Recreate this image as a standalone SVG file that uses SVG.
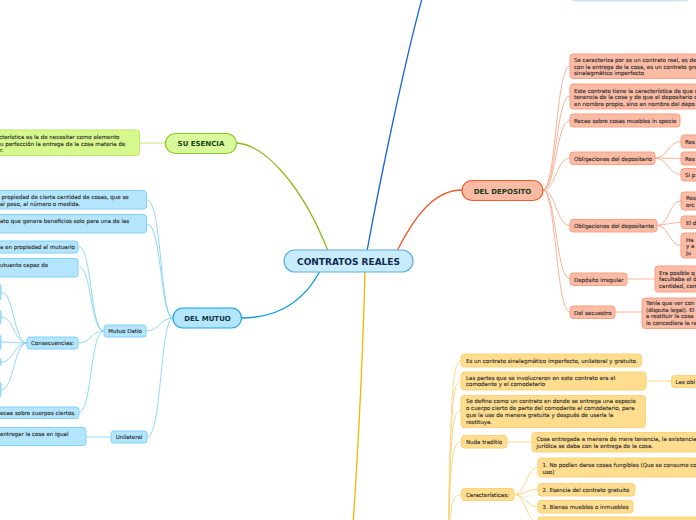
<svg xmlns="http://www.w3.org/2000/svg" width="696" height="520" viewBox="0 0 696 520">
<style>
.t{font-family:"DejaVu Sans",Verdana,sans-serif;font-size:5.5px;fill:#2e2e2e;stroke:#2e2e2e;stroke-width:0.12}
.h{font-family:"DejaVu Sans",Verdana,sans-serif;font-weight:bold;text-anchor:middle}
.m{text-anchor:middle}
.bl{fill:#b3e5fc;stroke:#82d2f6;stroke-width:1}
.sa{fill:#fbbba5;stroke:#f6a184;stroke-width:1}
.ye{fill:#fedd8e;stroke:#fcd27a;stroke-width:1}
.gr{fill:#d6f88c;stroke:#bde86a;stroke-width:1}
.cb{fill:none;stroke:#86d2f5;stroke-width:0.9}
.cs{fill:none;stroke:#f8ab8f;stroke-width:0.9}
.cy{fill:none;stroke:#fdd27c;stroke-width:0.9}
.cg{fill:none;stroke:#bde36e;stroke-width:0.9}
</style>
<g id="connectors">
<path d="M237,143 C265,145 302,185 328,251" fill="none" stroke="#8dbb1c" stroke-width="1.3"/>
<path d="M367,251 C380,180 405,60 423,-5" fill="none" stroke="#1764d8" stroke-width="1.3"/>
<path d="M397,251 C415,215 435,190 462,190" fill="none" stroke="#f2582a" stroke-width="1.3"/>
<path d="M320,271 C302,305 275,318 241,318" fill="none" stroke="#0f9be0" stroke-width="1.3"/>
<path d="M365,271 C363,350 358,450 353,525" fill="none" stroke="#f5b400" stroke-width="1.3"/>
<path class="cg" d="M165,143 L140,143"/>
<path class="cb" d="M173,318 C160,318 162,200 147,200"/>
<path class="cb" d="M173,318 C160,318 162,224 147,224"/>
<path class="cb" d="M173,318 C160,318 160,331 146,331"/>
<path class="cb" d="M173,318 C160,318 162,437 147,437"/>
<path class="cb" d="M104,331 C90,331 92,247 79,247"/>
<path class="cb" d="M104,331 C90,331 92,267 79,267"/>
<path class="cb" d="M104,331 C90,331 92,343 78,343"/>
<path class="cb" d="M104,331 C90,331 92,412.5 79,412.5"/>
<path class="cb" d="M27,343 C14,343 14,292 1,292"/>
<path class="cb" d="M27,343 C14,343 14,317 1,317"/>
<path class="cb" d="M27,343 L1,342"/>
<path class="cb" d="M27,343 C14,343 14,362 1,362"/>
<path class="cb" d="M27,343 C14,343 14,390 1,390"/>
<path class="cb" d="M111,437 L86,437"/>
<path class="cs" d="M543,190 C556,190 556,66 570,66"/>
<path class="cs" d="M543,190 C556,190 556,96 570,96"/>
<path class="cs" d="M543,190 C556,190 556,120.5 570,120.5"/>
<path class="cs" d="M543,190 C556,190 556,158 570,158"/>
<path class="cs" d="M543,190 C556,190 556,225.5 570,225.5"/>
<path class="cs" d="M543,190 C556,190 556,279 570,279"/>
<path class="cs" d="M543,190 C556,190 556,312 570,312"/>
<path class="cs" d="M655,158 C668,158 668,141.5 681,141.5"/>
<path class="cs" d="M655,158 L681,158.5"/>
<path class="cs" d="M655,158 C668,158 668,174.5 681,174.5"/>
<path class="cs" d="M657,225.5 C669,225.5 669,201 681,201"/>
<path class="cs" d="M657,225.5 L681,222"/>
<path class="cs" d="M657,225.5 C669,225.5 669,245.5 681,245.5"/>
<path class="cs" d="M627,279 L655,279"/>
<path class="cs" d="M615,312 L642,312"/>
<path class="cy" d="M448,540 C451,400 452,360.5 461,360.5"/>
<path class="cy" d="M448,540 C451,410 452,381 461,381"/>
<path class="cy" d="M448,540 C451,430 452,411 461,411"/>
<path class="cy" d="M448,540 C451,460 452,442 461,442"/>
<path class="cy" d="M448,540 C451,505 452,494.5 461,494.5"/>
<path class="cy" d="M646,381 L671,381"/>
<path class="cy" d="M507,442 L532,442"/>
<path class="cy" d="M514,494.5 C526,494.5 526,467.5 538,467.5"/>
<path class="cy" d="M514,494.5 C526,494.5 526,489.5 538,489.5"/>
<path class="cy" d="M514,494.5 C526,494.5 526,507 538,507"/>
<path class="cy" d="M514,494.5 C526,494.5 526,522 538,522"/>
</g>
<g id="top-box"><rect x="572" y="-20" width="116" height="21" rx="3" fill="#e1ecfb" stroke="#c9dbf3"/></g>
<g id="center"><rect x="284" y="250" width="129" height="22" rx="11" fill="#c8ecfb" stroke="#5aaee0" stroke-width="1.2"/><text class="h" x="348.5" y="264.5" font-size="9" fill="#102a52">CONTRATOS REALES</text></g>
<g id="su-esencia"><rect x="165.5" y="133.5" width="71" height="20" rx="10" fill="#d9f99d" stroke="#8ac926" stroke-width="1.2"/><text class="h" x="201" y="146" font-size="7" fill="#1c4416">SU ESENCIA</text></g>
<g id="esencia-leaf"><rect class="gr" x="-5" y="130" width="144.5" height="25.5" rx="3"/><text class="t" x="-1" y="138.5">cterística es la de necesitar como elemento</text><text class="t" x="0" y="145.5">u perfección la entrega de la cosa materia de</text><text class="t" x="0" y="152">r.</text></g>
<g id="del-mutuo"><rect x="173" y="308" width="68.5" height="20" rx="10" fill="#b3e5fc" stroke="#1aa3e8" stroke-width="1.2"/><text class="h" x="207.5" y="320.5" font-size="7" fill="#0f3640">DEL MUTUO</text></g>
<g id="mutuo-1"><rect class="bl" x="-5" y="190.5" width="151.5" height="18.5" rx="3"/><text class="t" x="1.5" y="199">propiedad de cierta cantidad de cosas, que se</text><text class="t" x="0" y="205.5">al peso, al número o medida.</text></g>
<g id="mutuo-2"><rect class="bl" x="-5" y="214.5" width="151.5" height="18.5" rx="3"/><text class="t" x="0" y="223">ato que genera beneficios solo para una de las</text></g>
<g id="mutuo-3"><rect class="bl" x="-5" y="241" width="83" height="12" rx="3"/><text class="t" x="0" y="249">a en propiedad al mutuario</text></g>
<g id="mutuo-4"><rect class="bl" x="-5" y="258.5" width="83" height="18.5" rx="3"/><text class="t" x="0" y="267">utuante capaz de</text></g>
<g id="mutuo-datio"><rect class="bl" x="104" y="325" width="42" height="12" rx="2.5"/><text class="t m" x="125" y="333">Mutuo Datio</text></g>
<g id="consecuencias"><rect class="bl" x="27" y="337" width="51" height="12" rx="2.5"/><text class="t m" x="52.5" y="345">Consecuencias:</text></g>
<g id="cons-1"><rect class="bl" x="-10" y="284" width="11" height="16" rx="2"/></g>
<g id="cons-2"><rect class="bl" x="-10" y="310" width="11" height="14" rx="2"/></g>
<g id="cons-3"><rect class="bl" x="-10" y="335" width="11" height="15" rx="2"/></g>
<g id="cons-4"><rect class="bl" x="-10" y="358" width="11" height="8" rx="2"/></g>
<g id="cons-5"><rect class="bl" x="-10" y="382" width="11" height="15" rx="2"/></g>
<g id="mutuo-5"><rect class="bl" x="-5" y="407" width="84" height="11.5" rx="3"/><text class="t" x="0" y="415">ecae sobre cuerpos ciertos.</text></g>
<g id="mutuo-6"><rect class="bl" x="-5" y="427.5" width="91" height="18" rx="3"/><text class="t" x="0" y="436">entregar la cosa en igual</text></g>
<g id="unilateral"><rect class="bl" x="111" y="431" width="36" height="12" rx="2.5"/><text class="t m" x="129" y="439">Unilateral</text></g>
<g id="del-deposito"><rect x="462" y="180.5" width="81" height="20" rx="10" fill="#f9bba4" stroke="#f25a2c" stroke-width="1.2"/><text class="h" x="502.5" y="193.5" font-size="7" fill="#173b22">DEL DEPOSITO</text></g>
<g id="dep-1"><rect class="sa" x="570" y="54" width="140" height="24.5" rx="3"/><text class="t" x="574" y="62">Se caracteriza por se un contrato real, es de</text><text class="t" x="574" y="68.5">con la entrega de la cosa, es un contrato gra</text><text class="t" x="574" y="75">sinalagmático imperfecto</text></g>
<g id="dep-2"><rect class="sa" x="570" y="84" width="140" height="25" rx="3"/><text class="t" x="574" y="92.5">Este contrato tiene la característica de que s</text><text class="t" x="574" y="99">tenencia de la cosa y de que el depositario c</text><text class="t" x="574" y="105.5">en nombre propio, sino en nombre del depo</text></g>
<g id="dep-3"><rect class="sa" x="570" y="114" width="110" height="13" rx="3"/><text class="t" x="574" y="122.5">Recae sobre cosas muebles in specie</text></g>
<g id="dep-obl-depositario"><rect class="sa" x="570" y="152" width="85" height="12.5" rx="3"/><text class="t" x="574" y="160.5">Obligaciones del depositario</text></g>
<g id="dep-obl-1"><rect class="sa" x="681" y="135" width="25" height="13" rx="3"/><text class="t" x="685" y="143.5">Res</text></g>
<g id="dep-obl-2"><rect class="sa" x="681" y="152" width="25" height="13" rx="3"/><text class="t" x="685" y="160.5">Res</text></g>
<g id="dep-obl-3"><rect class="sa" x="681" y="168.5" width="25" height="12.5" rx="3"/><text class="t" x="685" y="176.5">Si p</text></g>
<g id="dep-obl-depositante"><rect class="sa" x="570" y="219.5" width="87" height="12.5" rx="3"/><text class="t" x="574" y="228">Obligaciones del depositante</text></g>
<g id="dep-ante-1"><rect class="sa" x="681" y="192" width="25" height="18" rx="3"/><text class="t" x="686" y="200">Res</text><text class="t" x="686" y="206.5">orc</text></g>
<g id="dep-ante-2"><rect class="sa" x="681" y="216" width="25" height="12.5" rx="3"/><text class="t" x="686" y="224.5">El d</text></g>
<g id="dep-ante-3"><rect class="sa" x="681" y="233" width="25" height="25" rx="3"/><text class="t" x="686" y="241.5">Ha</text><text class="t" x="686" y="248">y a</text><text class="t" x="686" y="254.5">Ju</text></g>
<g id="dep-irregular"><rect class="sa" x="570" y="273" width="57" height="12.5" rx="3"/><text class="t" x="574" y="281.5">Depósito irregular</text></g>
<g id="dep-irregular-1"><rect class="sa" x="655" y="266" width="60" height="26" rx="3"/><text class="t" x="659" y="274.5">Era posible q</text><text class="t" x="659" y="281">facultaba el d</text><text class="t" x="659" y="287.5">cantidad, com</text></g>
<g id="dep-secuestro"><rect class="sa" x="570" y="306" width="45" height="12.5" rx="3"/><text class="t" x="574" y="314.5">Del secuestro</text></g>
<g id="dep-secuestro-1"><rect class="sa" x="642" y="298" width="70" height="30.5" rx="3"/><text class="t" x="646" y="305">Tenía que ver con</text><text class="t" x="646" y="311.5">(disputa legal). El</text><text class="t" x="646" y="318">a restituir la cosa</text><text class="t" x="646" y="324.5">le concediera la ra</text></g>
<g id="com-1"><rect class="ye" x="461" y="354" width="180.5" height="13" rx="3"/><text class="t" x="466" y="362.5">Es un contrato sinalagmático imperfecto, unilateral y gratuito.</text></g>
<g id="com-2"><rect class="ye" x="461" y="372" width="185" height="18" rx="3"/><text class="t" x="466" y="379.5">Las partes que se involucraron en este contrato era el</text><text class="t" x="466" y="386">comodante y el comodatario</text></g>
<g id="com-2-1"><rect class="ye" x="671.5" y="375.5" width="40" height="12" rx="3"/><text class="t" x="675.5" y="383.5">Las obl</text></g>
<g id="com-3"><rect class="ye" x="461" y="395.5" width="184.5" height="32" rx="3"/><text class="t" x="466" y="402.5">Se define como un contrato en donde se entrega una especie</text><text class="t" x="466" y="409.5">o cuerpo cierto de parte del comodante al comodatario, para</text><text class="t" x="466" y="416.5">que la use de manera gratuita y después de usarla la</text><text class="t" x="466" y="423.5">restituya.</text></g>
<g id="com-nuda"><rect class="ye" x="461.5" y="435.5" width="45.5" height="12.5" rx="3"/><text class="t" x="466" y="444">Nuda traditio</text></g>
<g id="com-nuda-1"><rect class="ye" x="532" y="432.5" width="180" height="19.5" rx="3"/><text class="t" x="536.5" y="441">Cosa entregada a manera de mera tenencia, la existencia</text><text class="t" x="536.5" y="448">jurídica se daba con la entrega de la cosa.</text></g>
<g id="com-caract"><rect class="ye" x="461.5" y="488.5" width="52.5" height="12" rx="3"/><text class="t" x="466" y="496.5">Características:</text></g>
<g id="com-c1"><rect class="ye" x="538" y="458" width="175" height="19" rx="3"/><text class="t" x="542.5" y="467">1. No podían darse cosas fungibles (Que se consume co</text><text class="t" x="542.5" y="473.5">uso)</text></g>
<g id="com-c2"><rect class="ye" x="538" y="483.5" width="97" height="12.5" rx="3"/><text class="t" x="542.5" y="492">2. Esencia del contrato gratuito</text></g>
<g id="com-c3"><rect class="ye" x="538" y="500.5" width="95" height="12.5" rx="3"/><text class="t" x="542.5" y="509">3. Bienes muebles o inmuebles</text></g>
<g id="com-c4"><rect class="ye" x="538" y="517" width="175" height="12" rx="3"/></g>
</svg>
